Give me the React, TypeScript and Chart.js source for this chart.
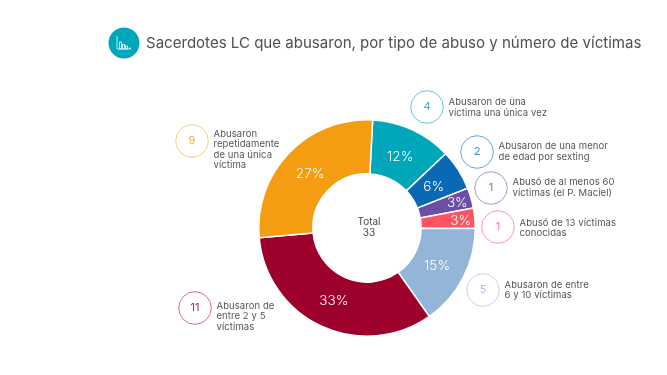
import React, { useEffect, useRef } from "react";
import { Chart, registerables } from "chart.js";

Chart.register(...registerables);

const titleText = "Sacerdotes LC que abusaron, por tipo de abuso y número de víctimas";
const counts = [4, 2, 1, 1, 5, 11, 9];
const colors = ["#00A7BB", "#0A69B4", "#6C4FA5", "#FF5262", "#93B5D8", "#9E002C", "#F59D12"];
const categoryLines = [
  ["Abusaron de una", "víctima una única vez"],
  ["Abusaron de una menor", "de edad por sexting"],
  ["Abusó de al menos 60", "víctimas (el P. Maciel)"],
  ["Abusó de 13 víctimas", "conocidas"],
  ["Abusaron de entre", "6 y 10 víctimas"],
  ["Abusaron de", "entre 2 y 5", "víctimas"],
  ["Abusaron", "repetidamente", "de una única", "víctima"],
];
const badgeColors = ["#5CC8D6", "#64A4D8", "#A994CF", "#FF9AA3", "#C2D5EA", "#CF6E8B", "#FACB84"];
const badgeTextColors = ["#2FB7C8", "#3A8CCB", "#8A72BC", "#FF7A86", "#A9C3E0", "#A92A50", "#F7AE42"];
const badgeCenters = [[427, 107], [477, 152], [491, 188], [498, 227], [483, 290], [195, 308], [192, 141]];
const textShiftY = [0.5, -0.5, -0.5, 1, 0, 8.5, 8.5];
const totalLabel = "Total";
const FONT = "Inter, 'Open Sans', sans-serif";

const overlay = {
  id: "overlay",
  afterDatasetsDraw(chart: any) {
    const { ctx } = chart;
    const meta = chart.getDatasetMeta(0);
    const total = counts.reduce((a, b) => a + b, 0);
    ctx.save();
    ctx.textBaseline = "middle";

    // percentage labels
    ctx.fillStyle = "#ffffff";
    ctx.textAlign = "center";
    ctx.font = `350 13.5px ${FONT}`;
    meta.data.forEach((arc: any, i: number) => {
      const p = arc.getProps(["x", "y", "startAngle", "endAngle"], true);
      const mid = (p.startAngle + p.endAngle) / 2;
      const r = counts[i] / total < 0.05 ? 94 : 79;
      ctx.fillText(`${Math.round((counts[i] / total) * 100)}%`, p.x + Math.cos(mid) * r, p.y + Math.sin(mid) * r + 1);
    });

    // centre text
    const c = meta.data[0];
    ctx.fillStyle = "#4a4a4a";
    ctx.font = `400 10px ${FONT}`;
    ctx.fillText(totalLabel, c.x + 2, c.y - 6);
    ctx.fillText(String(total), c.x + 2, c.y + 5);

    // callouts
    counts.forEach((n, i) => {
      const [x, y] = badgeCenters[i];
      ctx.beginPath();
      ctx.arc(x, y, 16.3, 0, Math.PI * 2);
      ctx.strokeStyle = badgeColors[i];
      ctx.lineWidth = 1;
      ctx.stroke();
      ctx.fillStyle = badgeTextColors[i];
      ctx.textAlign = "center";
      ctx.font = `400 11px ${FONT}`;
      ctx.fillText(String(n), x, y);
      ctx.fillStyle = "#55555a";
      ctx.textAlign = "left";
      ctx.font = `400 9.5px ${FONT}`;
      (ctx as any).letterSpacing = "0.08px";
      const lines = categoryLines[i];
      lines.forEach((line, j) => {
        ctx.fillText(line, x + 21.5, y + textShiftY[i] + (j - (lines.length - 1) / 2) * 10.4);
      });
      (ctx as any).letterSpacing = "0px";
    });

    // header icon
    ctx.beginPath();
    ctx.arc(124, 43, 15.5, 0, Math.PI * 2);
    ctx.fillStyle = "#00A7BB";
    ctx.fill();
    ctx.strokeStyle = "#d8f3f6";
    ctx.lineWidth = 0.9;
    ctx.beginPath();
    ctx.moveTo(117, 36);
    ctx.lineTo(117, 49);
    ctx.lineTo(131, 49);
    ctx.stroke();
    [[119.5, 42], [122.5, 44.5], [125.5, 46]].forEach(([x, y]) => {
      ctx.strokeRect(x, y, 2, 49 - y);
    });
    ctx.fillStyle = "#d8f3f6";
    ctx.fillRect(129, 47.5, 1.5, 1.5);

    // title
    ctx.fillStyle = "#4f4f55";
    ctx.textAlign = "left";
    ctx.font = `400 15.05px ${FONT}`;
    ctx.fillText(titleText, 146, 43);
    ctx.restore();
  },
};

export default function App() {
  const ref = useRef<HTMLCanvasElement>(null);
  useEffect(() => {
    const chart = new Chart(ref.current!, {
      type: "doughnut",
      data: {
        labels: categoryLines.map((l) => l.join(" ")),
        datasets: [
          {
            data: counts,
            backgroundColor: colors,
            borderColor: "#ffffff",
            borderWidth: 1.5,
          },
        ],
      },
      options: {
        responsive: false,
        animation: false,
        cutout: "50%",
        rotation: 3,
        layout: { padding: { left: 258, right: 191, top: 119, bottom: 38 } },
        plugins: { legend: { display: false }, tooltip: { enabled: false }, title: { display: false } },
      },
      plugins: [overlay],
    } as any);
    return () => chart.destroy();
  }, []);
  return (
    <div style={{ position: "absolute", left: 0, top: 0, width: 667, height: 375, background: "#fff" }}>
      <canvas ref={ref} width={667} height={375} style={{ display: "block" }} />
    </div>
  );
}
